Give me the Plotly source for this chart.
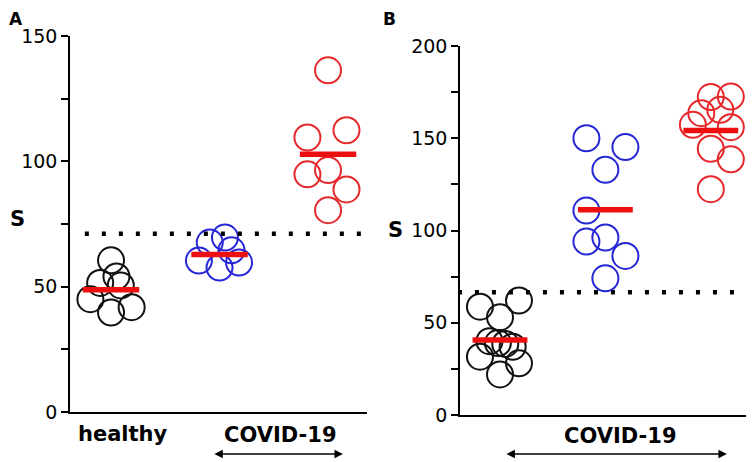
import plotly.graph_objects as go

# ---------------- data ----------------
# Panel A
a_healthy = [60.5, 54.1, 51.5, 50.5, 45.0, 41.8, 39.7]
a_healthy_off = [0.0, 0.05, -0.10, 0.09, -0.19, 0.19, 0.0]
a_covid1 = [67.6, 69.6, 64.5, 60.4, 57.6, 59.6]
a_covid1_off = [-0.09, 0.05, 0.11, -0.19, 0.0, 0.18]
a_covid2 = [136.3, 109.5, 112.4, 94.8, 96.5, 88.8, 80.5]
a_covid2_off = [0.0, -0.19, 0.17, -0.19, 0.0, 0.17, 0.0]
a_means = [48.8, 62.8, 102.8]
a_threshold = 71.1

# Panel B
b_group1 = [58.7, 62.0, 53.0, 40.0, 39.0, 38.5, 37.0, 31.6, 28.0, 22.0]
b_group1_off = [-0.19, 0.18, 0.0, -0.1, -0.02, 0.05, 0.12, -0.19, 0.18, 0.0]
b_group2 = [150.0, 145.2, 132.9, 110.8, 94.0, 96.2, 86.2, 74.1]
b_group2_off = [-0.18, 0.19, 0.0, -0.18, -0.18, 0.0, 0.19, 0.0]
b_group3 = [172.3, 172.6, 163.6, 165.4, 157.3, 156.0, 144.3, 138.6, 122.4]
b_group3_off = [0.0, 0.19, -0.09, 0.09, -0.17, 0.19, 0.0, 0.19, 0.0]
b_means = [40.7, 111.2, 154.2]
b_threshold = 66.5

a_ticks = [0, 25, 50, 75, 100, 125, 150]
a_ticktext = ["0", "", "50", "", "100", "", "150"]
b_ticks = [0, 25, 50, 75, 100, 125, 150, 175, 200]
b_ticktext = ["0", "", "50", "", "100", "", "150", "", "200"]

BLACK = "#111111"
BLUE = "#2626d6"
RED = "#e6282b"
MEANRED = "#ee1010"
FONT = "DejaVu Sans"

fig = go.Figure()


def add_group(vals, offs, cat, color, xa, ya):
    fig.add_trace(go.Scatter(
        x=[cat + o for o in offs], y=vals, mode="markers",
        marker=dict(symbol="circle-open", size=26, color=color,
                    line=dict(width=2, color=color)),
        cliponaxis=False,
        xaxis=xa, yaxis=ya, showlegend=False, hoverinfo="y"))


def add_mean(m, cat, xa, ya):
    fig.add_trace(go.Scatter(
        x=[cat - 0.26, cat + 0.26], y=[m, m], mode="lines",
        line=dict(color=MEANRED, width=5.5), cliponaxis=False,
        xaxis=xa, yaxis=ya, showlegend=False, hoverinfo="skip"))


add_group(a_healthy, a_healthy_off, 0, BLACK, "x", "y")
add_group(a_covid1, a_covid1_off, 1, BLUE, "x", "y")
add_group(a_covid2, a_covid2_off, 2, RED, "x", "y")
for i, m in enumerate(a_means):
    add_mean(m, i, "x", "y")

add_group(b_group1, b_group1_off, 0, BLACK, "x2", "y2")
add_group(b_group2, b_group2_off, 1, BLUE, "x2", "y2")
add_group(b_group3, b_group3_off, 2, RED, "x2", "y2")
for i, m in enumerate(b_means):
    add_mean(m, i, "x2", "y2")

W, H = 754, 462
OFF = 8  # page body margin offset


def px_x(p):
    return (p - OFF) / W


def px_y(p):
    return 1 - (p - OFF) / H


axis_common = dict(showline=True, linecolor="black", linewidth=1.5,
                   showgrid=False, zeroline=False, automargin=False)

fig.update_layout(
    template="none",
    width=W, height=H,
    margin=dict(l=0, r=0, t=0, b=0, pad=0, autoexpand=False),
    paper_bgcolor="white", plot_bgcolor="white",
    font=dict(family=FONT, color="black"),
    xaxis=dict(domain=[px_x(70), px_x(367)], range=[-0.378, 2.359],
               showticklabels=False, ticks="", anchor="y", **axis_common),
    yaxis=dict(domain=[px_y(412), px_y(36)], range=[0, 150],
               tickvals=a_ticks, ticktext=a_ticktext, ticks="outside",
               ticklen=7, tickwidth=1.5, tickcolor="black",
               tickfont=dict(size=19, family=FONT, color="black"),
               anchor="x", **axis_common),
    xaxis2=dict(domain=[px_x(460), px_x(752)], range=[-0.3795, 2.391],
                showticklabels=False, ticks="", anchor="y2", **axis_common),
    yaxis2=dict(domain=[px_y(415), px_y(46)], range=[0, 200],
                tickvals=b_ticks, ticktext=b_ticktext, ticks="outside",
                ticklen=7, tickwidth=1.5, tickcolor="black",
                tickfont=dict(size=19, family=FONT, color="black"),
                anchor="x2", **axis_common),
)

# dotted threshold lines
fig.add_shape(type="line", xref="x domain", yref="y",
              x0=0.05, x1=0.985, y0=a_threshold, y1=a_threshold,
              line=dict(color="black", width=4.5, dash="4px,13px"))
fig.add_shape(type="line", xref="x2 domain", yref="y2",
              x0=-0.007, x1=0.985, y0=b_threshold, y1=b_threshold,
              line=dict(color="black", width=4.5, dash="4px,13px"))

bold = dict(family=FONT, color="black")


def label(text, x, y, size, anchor="center", yanchor="middle"):
    fig.add_annotation(text="<b>%s</b>" % text, xref="paper", yref="paper",
                       x=px_x(x), y=px_y(y), xanchor=anchor, yanchor=yanchor,
                       showarrow=False, borderpad=0,
                       font=dict(size=size, **bold))


label("A", 8, 8, 17, anchor="left", yanchor="top")
label("B", 382, 8, 17, anchor="left", yanchor="top")
label("S", 17, 219, 21)
label("S", 395, 230, 21)
label("healthy", 122.5, 434, 21)
label("COVID-19", 280, 435, 21)
label("COVID-19", 620, 436, 21)

# double-headed arrows
for xr, x0, x1 in [("x domain", 0.481, 0.919), ("x2 domain", 0.154, 0.914)]:
    fig.add_annotation(text="", xref=xr, yref="paper", axref=xr, ayref="pixel",
                       x=x1, ax=x0, y=px_y(454), ay=0, showarrow=True,
                       arrowside="end+start", arrowhead=2, arrowsize=1.3,
                       arrowwidth=1.3, arrowcolor="black", standoff=0,
                       startstandoff=0)

fig.write_html("out.html")
